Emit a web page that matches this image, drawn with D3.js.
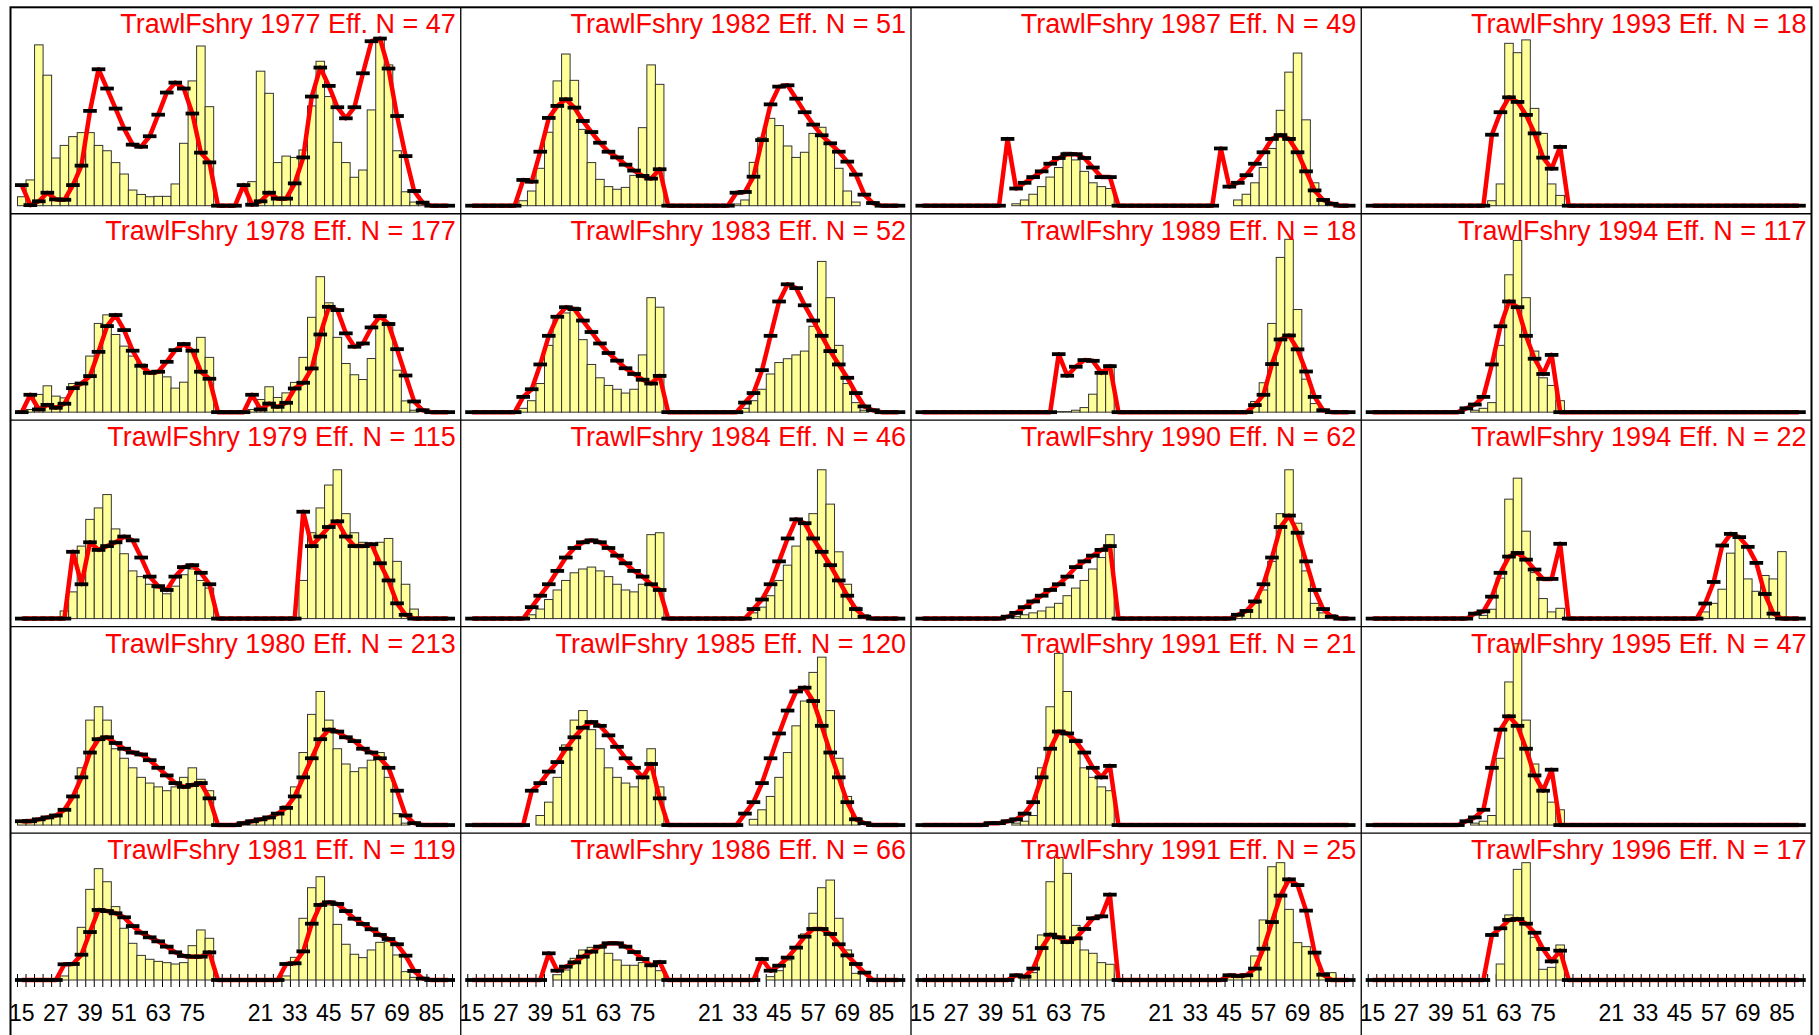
<!DOCTYPE html>
<html>
<head>
<meta charset="utf-8">
<script src="https://cdn.jsdelivr.net/npm/d3@7"></script>
<style>
  body { margin: 0; background: #fff; }
  svg { display: block; }
</style>
</head>
<body>
<svg id="chart" width="1819" height="1035"></svg>
<script>
// length comp fits, trawl fishery, females (bins 0-25) then males (bins 26-50)
const nBins = 51;
const years = [1977, 1978, 1979, 1980, 1981, 1982, 1983, 1984, 1985, 1986,
               1987, 1989, 1990, 1991, 1991, 1993, 1994, 1994, 1995, 1996];
const effN = [47, 177, 115, 213, 119, 51, 52, 46, 120, 66,
              49, 18, 62, 21, 25, 18, 117, 22, 47, 17];

// each entry: [first bin, values...] in percent of panel height
const obsFem = [
  [0, 4.7,13.5,84.3,68.4,25,31.6,36.2,38.3,38.3,31.6,28.8,22.6,16.6,8.2,5.9,4.7,4.9,4.9,11.4,32.7,65.4,83.7,51.9],
  [0, 0.7,1.4,9.3,13.8,8.4,7.5,15,15.4,29.4,46.5,51,40.7,34.6,29.4,25.2,20.6,20.6,18.5,12.6,15.7,32.5,39.2,28.7],
  [5, 4,14,38,52,58,65,47,34,25,22,18,16,13,17,23,26,20,16],
  [0, 2,3,3,4,5,8,15,30,55,62,55,40,35,30,25,22,20,18,20,25,30,24,18],
  [5, 2.9,11.5,37.9,65.2,80.1,70.7,52.8,37.2,26.4,17.7,14.9,13.4,12.5,11.5,12.5,24.7,36,30],
  [6, 2.6,7.7,19.6,38.5,65.4,79.5,65.7,40,22.6,13.8,10,8.6,9.6,15.9,40.9,73.8,63.6],
  [6, 2,6,15,35,50,52,55,38,25,18,14,12,10,12,30,60,55],
  [7, 2,5,10,15,20,24,26,27,25,22,18,15,14,18,44,45],
  [8, 5,12,25,42,55,60,50,40,30,25,22,20,25,40,20],
  [10, 3.8,7.2,15.6,21.6,23.5,23,19.2,14.4,10.6,10.6,12.5,10.1,6.7],
  [11, 1,3,6,10,15,20,28,24,18,12,10,9],
  [16, 0.3,0.3,1,2.4,9.4,20.6,24.7],
  [11, 1,2,3,4,6,8,12,16,20,26,32,44],
  [11, 1,2,5,30,62,90,70,45,30,25,20,18],
  [12, 1.9,5.3,32.4,70.7,88.2,76.7,39.3,21.6,19.2,12.5,11.3],
  [14, 2.6,11.4,85.1,80.2,86.9,51,37.9,11.4,5.4],
  [12, 1,2,5,35,72,90,60,32,18,14,6],
  [13, 1.7,4.9,21.2,62.6,73.6,45.8,24.1,10.5,3.5,5.4],
  [12, 1,2,5,35,75,95,55,32,18,12,8],
  [15, 11.5,46.8,79.6,84.4,30.7,7.7,9.1,25.2]
];
const obsMal = [
  [27, 12.6,70.5,58.9,22.6,26,25.3,29.2,52.3,75.7,57.2,33.2,22.6,14.9,18.7,50.2,87.2,73.8,28.8,7.3,1.9,1.9],
  [27, 1.4,6.6,13.3,7.7,10.1,15.6,28.7,49.7,71,57.3,39.2,25.5,19.6,17.1,28.1,50.3,46.9,22,5.9,1],
  [33, 20,45,58,70,78,55,45,40,38,40,42,30,18,5],
  [26, 1,2,3,4,6,10,20,38,58,70,55,40,32,28,30,34,38,25,6,1],
  [31, 2.9,16.3,44.4,66.4,74.3,54,40,25.7,18.5,16.1,21.6,27.1,27.6,18,6,1.9],
  [31, 0.9,3,22.7,35.8,45.8,42,31.3,25.3,28,37.9,41.1,32.7,19.6,7.7,1.9],
  [32, 2,6,12,20,26,28,30,32,45,79,60,35,15,5,1],
  [33, 3,6,12,20,28,38,50,55,78,60,35,18,6,2],
  [33, 3,8,15,25,38,52,65,80,88,60,35,15,4],
  [35, 2.4,6.7,14.4,24,33.1,48,66.4,71.9,44.4,21.6,4.8],
  [37, 3,6,12,20,30,50,70,80,45,12,3,1],
  [39, 5.6,15.4,46.5,81.1,90.6,53.8,17.3,4.5,1],
  [37, 2,4,8,15,30,55,78,50,25,8,3,2],
  [0],
  [36, 3.4,3.4,4.3,17.3,43.2,81.5,84.4,50.8,26.9,24,19.2,5.3,5.3],
  [0],
  [0],
  [39, 3.5,8,15.4,34.3,42.1,20.8,14.3,22.6,20.8,35.1],
  [0],
  [0]
];
const expFem = [
  [0, 10.8,0.3,2.3,6.8,3.3,3.1,10.8,21,49.7,71.5,61.4,50.9,40.4,32,30.9,36.4,47.7,59.3,64.5,61.4,48.3,27.8,22.7],
  [0, 0,9.1,1.4,3.8,2.3,4.4,12.6,15,18.9,31.6,45.1,50.9,43,32.2,24.3,20.6,21.2,26.4,32.5,35.7,32.2,21.2,17.5],
  [5, 0,35,18,40,36,38,40,43,41,32,22,17,15,22,27,28,24,18],
  [0, 2,2,3,4,5,8,15,25,38,45,46,43,40,38,37,34,30,26,22,20,21,22,14],
  [5, 11.3,11.5,18.2,34.5,50.4,49.6,48,45.1,38.8,34,30.7,27.8,24,19.9,17.3,16.8,16.8,19.9],
  [6, 13.5,12.6,28.3,46,52.3,55.8,51.4,44.4,38.6,33,28.3,25.3,21.5,18.4,15.6,14.2,19.1],
  [6, 8,12,25,40,50,55,54,48,42,36,31,27,23,20,17,15,19],
  [7, 6,12,18,25,32,37,40,41,40,37,33,29,25,22,18,15],
  [7, 18,22,28,33,40,46,51,54,52,47,41,35,30,25,32,14],
  [9, 19.2,6.7,9.6,12.7,16.8,20.4,24,26.4,26.4,24,20.1,15.1,10.6,12.9],
  [10, 35,9,12,15,18,22,25,27,27,25,20,15,15],
  [16, 30.4,19.1,23.8,27.3,26.9,20.6,24.1],
  [10, 1,3,6,9,12,15,18,22,27,30,33,36,38],
  [8, 1,1,2,3,6,12,25,40,49,48,44,38,30,25,31],
  [11, 3.4,2.4,8.2,23,32.6,30.7,27.3,30,36.7,44.4,45.8,61.4],
  [14, 37.2,49,56.8,54.4,47.6,37.9,25.2,19.4,30.8],
  [11, 2,4,8,25,45,58,55,40,28,20,30],
  [12, 2.6,3.8,11.5,24,32.5,34.4,30.9,25.7,20.8,20.8,39.2],
  [11, 2,4,8,30,50,57,52,40,26,18,29],
  [14, 32.4,37.2,43.2,43.9,40.5,34,22.3,13.4,21.1]
];
const expMal = [
  [26, 10.8,0.5,2.3,6.8,3.7,3.7,11.7,25.3,57.2,72.4,62.8,51.6,45.8,51.6,69.4,86.2,87.6,71.9,47,26,7.7,1.6],
  [26, 0,9.1,1.4,4.5,2.8,4.9,12.4,15.4,22.9,40.7,55.2,53.5,41.3,34.3,36,44.4,50.3,46.2,33,19.2,5.6,1],
  [32, 0,56,38,43,48,51,43,38,38,39,29,20,8,2],
  [26, 1,2,3,4,6,9,15,25,35,45,50,49,46,44,40,38,35,30,18,5,1],
  [31, 11.5,12,20.6,40.5,54,55.9,54.7,49.6,44.1,40.3,36.5,32.4,29.5,25.7,17.5,6.5,1],
  [31, 6.8,7.2,15.2,34.4,53.1,62.4,63.1,56.1,49,42.5,36.9,32.7,28.3,23.1,16.3,5.8,1.4],
  [32, 5,10,22,40,58,67,65,56,48,40,32,25,18,10,3,1],
  [33, 5,10,18,30,42,52,50,42,35,28,20,12,5,1],
  [32, 6,12,22,35,48,60,70,72,65,52,38,25,12,3,1],
  [34, 15.1,6.7,10.3,16.1,23.3,31.2,36.7,36.7,33.1,25.7,17.7,11.5,5.3],
  [35, 30,10,12,16,22,28,35,37,35,28,18,8,3,1],
  [39, 3.7,9.1,25.2,38.1,40.2,32.9,21.3,8,1],
  [37, 2,4,9,18,32,48,54,45,30,15,5,1],
  [0],
  [36, 3.4,2.9,3.4,8.2,22.5,41.7,60.7,72.4,68.3,49.9,19.7,3.8],
  [0],
  [0],
  [39, 7.9,19.2,38.3,44.4,42.7,37.6,29.2,12.9,2.6],
  [0],
  [0]
];

// x axis labels on the bottom row
const tickLabels = ["15", "27", "39", "51", "63", "75", "21", "33", "45", "57", "69", "85"];
const tickLabelBins = [0, 4, 8, 12, 16, 20, 28, 32, 36, 40, 44, 48];

function toBins(fem, mal) {
    var a = new Array(nBins).fill(0);
    [fem, mal].forEach(function(seg) {
        seg.slice(1).forEach(function(v, k) { a[seg[0] + k] = v; });
    });
    return a;
}

const svg = d3.select('#chart');
const nRows = 5, nCols = 4;
const left0 = 10.5, top0 = 7.3, colW = 450.25, rowH = 206.45;
const font = '"Liberation Sans", Arial, Helvetica, sans-serif';

for (var p = 0; p < years.length; p++) {
    var col = Math.floor(p / nRows), row = p % nRows;
    var px = left0 + col * colW, py = top0 + row * rowH;
    var last = (row === nRows - 1);

    var x = d3.scaleLinear().domain([0, nBins]).range([px + 7, px + 442]);
    var y = d3.scaleLinear().domain([0, 100])
        .range(last ? [py + 146.9, py + 7.9] : [py + 198.4, py + 7.6]);

    var obs = toBins(obsFem[p], obsMal[p]);
    var fit = toBins(expFem[p], expMal[p]);
    var g = svg.append('g').attr('class', 'panel');

    if (last) {
        g.selectAll('line.tick')
            .data(d3.range(nBins + 1))
            .enter().append('line')
            .attr('class', 'tick')
            .attr('x1', function(d) { return x(d); })
            .attr('x2', function(d) { return x(d); })
            .attr('y1', y(0) - 6)
            .attr('y2', y(0) + 7)
            .attr('stroke', '#000')
            .attr('stroke-width', 1);
        g.selectAll('text.lab')
            .data(tickLabels)
            .enter().append('text')
            .attr('class', 'lab')
            .attr('x', function(d, i) { return x(tickLabelBins[i] + 0.5); })
            .attr('y', y(0) + 40.7)
            .attr('text-anchor', 'middle')
            .style('font-family', font)
            .style('font-size', '23px')
            .text(function(d) { return d; });
    }

    g.selectAll('rect.bar')
        .data(obs.map(function(v, i) { return {i: i, v: v}; }).filter(function(d) { return d.v > 0; }))
        .enter().append('rect')
        .attr('class', 'bar')
        .attr('x', function(d) { return x(d.i); })
        .attr('width', function(d) { return x(d.i + 1) - x(d.i); })
        .attr('y', function(d) { return y(d.v); })
        .attr('height', function(d) { return y(0) - y(d.v); })
        .attr('fill', '#ffff99')
        .attr('stroke', '#333')
        .attr('stroke-width', 1);

    var line = d3.line()
        .x(function(d, i) { return x(i + 0.5); })
        .y(function(d) { return y(d); });

    g.append('path')
        .datum(fit)
        .attr('d', line)
        .attr('fill', 'none')
        .attr('stroke', '#ff0000')
        .attr('stroke-width', 4.5)
        .attr('stroke-linejoin', 'round');

    g.selectAll('line.dash')
        .data(fit)
        .enter().append('line')
        .attr('class', 'dash')
        .attr('x1', function(d, i) { return x(i + 0.5) - 6.8; })
        .attr('x2', function(d, i) { return x(i + 0.5) + 6.8; })
        .attr('y1', function(d) { return y(d); })
        .attr('y2', function(d) { return y(d); })
        .attr('stroke', '#000')
        .attr('stroke-width', 3.8);

    g.append('text')
        .attr('x', px + colW - 5)
        .attr('y', py + 26)
        .attr('text-anchor', 'end')
        .attr('fill', '#ff0000')
        .style('font-family', font)
        .style('font-size', '27px')
        .text('TrawlFshry ' + years[p] + ' Eff. N = ' + effN[p]);
}

// panel dividers and outer frame
for (var c = 1; c < nCols; c++) {
    svg.append('line')
        .attr('x1', left0 + c * colW).attr('x2', left0 + c * colW)
        .attr('y1', top0).attr('y2', 1040)
        .attr('stroke', '#000').attr('stroke-width', 1.3);
}
for (var r = 1; r < nRows; r++) {
    svg.append('line')
        .attr('x1', left0).attr('x2', left0 + nCols * colW)
        .attr('y1', top0 + r * rowH).attr('y2', top0 + r * rowH)
        .attr('stroke', '#000').attr('stroke-width', 1.3);
}
svg.append('rect')
    .attr('x', left0).attr('y', top0)
    .attr('width', nCols * colW).attr('height', 1045 - top0)
    .attr('fill', 'none')
    .attr('stroke', '#000')
    .attr('stroke-width', 2);
</script>
</body>
</html>
